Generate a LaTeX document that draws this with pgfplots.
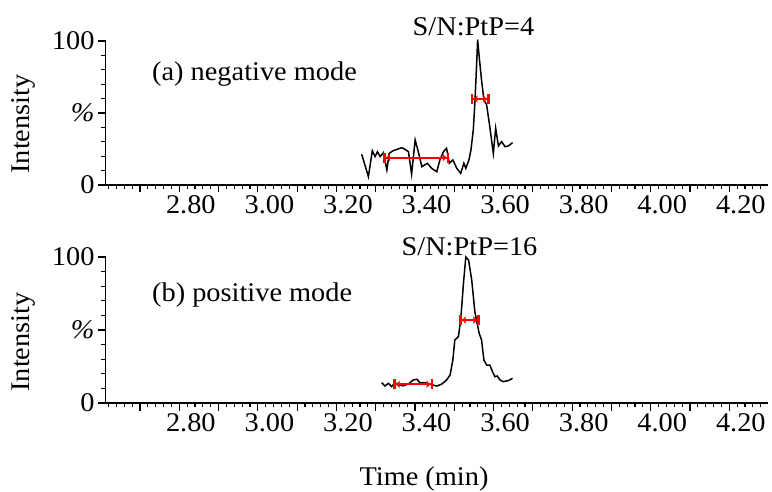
\documentclass[border=0pt]{standalone}
\usepackage{pgfplots}
\pgfplotsset{compat=1.18}
\usepackage{fontspec}
\setmainfont{Liberation Serif}[FakeStretch=1.05]
\usetikzlibrary{arrows.meta}

\newcommand{\bigf}{\fontsize{27bp}{32bp}\selectfont}

\pgfplotsset{
  chrom/.style={
    scale only axis, width=662.5bp,
    xmin=2.5798, xmax=4.2662, ymin=0, ymax=100,
    axis x line*=bottom, axis y line*=left,
    axis line style={line width=1.1bp},
    tick align=outside, major tick length=7.5bp, minor tick length=4.5bp,
    every tick/.style={black, line width=1.1bp},
    xtick={2.6677,2.7677,...,4.2},
    xticklabels={,2.80,,3.00,,3.20,,3.40,,3.60,,3.80,,4.00,,4.20},
    minor xtick={2.5877,2.6077,...,4.2662},
    xticklabel style={xshift=11.5bp},
    ytick={0,50,100}, yticklabels={0,\textit{\%},100},
    minor ytick={10,20,30,40,60,70,80,90},
    tick label style={font=\bigf},
    clip=false,
  },
  trace/.style={black, line width=1.5bp, mark=none},
  snbar/.style={red, line width=2bp, mark=none,
    arrows={Bar[width=10bp,line width=2.5bp]Latex[length=4bp,width=8bp]-Latex[length=4bp,width=8bp]Bar[width=10bp,line width=2.5bp]}},
}

\begin{document}
\begin{tikzpicture}
\path[use as bounding box] (0,0) rectangle (772bp,492bp);

% (a) negative mode
\begin{axis}[chrom, height=144bp, at={(105.5bp,307bp)}, anchor=south west]
\addplot[trace] coordinates {
(3.232,21.3) (3.249,5.8) (3.259,23.8) (3.266,19.7) (3.272,23.1) (3.279,19.7)
(3.287,22.4) (3.296,10.4) (3.302,22.0) (3.312,23.8) (3.334,25.9) (3.342,24.8)
(3.351,23.1) (3.359,7.6) (3.368,31.3) (3.376,23.1) (3.385,12.7) (3.399,15.1)
(3.410,11.6) (3.423,9.2) (3.431,17.4) (3.440,23.1) (3.448,25.5) (3.455,15.1)
(3.464,17.4) (3.474,11.6) (3.484,8.1) (3.492,15.1) (3.497,11.6) (3.505,17.4)
(3.510,24.3) (3.516,38.2) (3.520,56.7) (3.525,86.8) (3.527,101) (3.531,89.1)
(3.537,72.9) (3.543,59.0) (3.550,55.6) (3.558,40.5) (3.567,22.0) (3.573,39.4)
(3.580,27.1) (3.588,30.1) (3.597,26.6) (3.605,27.1) (3.616,29.4)};
\addplot[snbar] coordinates {(3.287,19.0) (3.455,19.0)};
\addplot[snbar] coordinates {(3.510,59.7) (3.558,59.7)};
\end{axis}

% (b) positive mode
\begin{axis}[chrom, height=146bp, at={(105.5bp,89bp)}, anchor=south west]
\addplot[trace] coordinates {
(3.283,13.9) (3.291,11.6) (3.300,13.5) (3.308,11.2) (3.317,13.9) (3.325,12.3)
(3.338,11.8) (3.351,13.0) (3.363,15.8) (3.373,16.2) (3.380,13.9) (3.393,13.9)
(3.406,12.8) (3.423,11.6) (3.436,13.0) (3.448,15.8) (3.457,19.2) (3.464,29.5)
(3.469,43.2) (3.478,45.4) (3.484,56.8) (3.491,82.0) (3.497,100) (3.504,97.9)
(3.512,84.2) (3.520,62.5) (3.531,47.7) (3.537,43.2) (3.543,29.5) (3.550,26.0)
(3.558,26.0) (3.565,21.4) (3.571,18.0) (3.577,18.5) (3.584,15.8) (3.592,14.6)
(3.605,15.3) (3.616,16.9)};
\addplot[snbar] coordinates {(3.312,12.8) (3.414,12.8)};
\addplot[snbar] coordinates {(3.480,56.8) (3.533,56.8)};
\end{axis}

\node[anchor=base, font=\bigf] at (473.5bp,456bp) {S/N:PtP=4};
\node[anchor=base, font=\bigf] at (469.5bp,236bp) {S/N:PtP=16};
\node[anchor=base west, inner sep=0pt, font=\bigf] at (152bp,411bp) {(a) negative mode};
\node[anchor=base west, inner sep=0pt, font=\bigf] at (152bp,190bp) {(b) positive mode};
\node[rotate=90, font=\bigf] at (23bp,368bp) {Intensity};
\node[rotate=90, font=\bigf] at (23bp,150bp) {Intensity};
\node[anchor=base, font=\bigf] at (424bp,6.5bp) {Time (min)};
\end{tikzpicture}
\end{document}
